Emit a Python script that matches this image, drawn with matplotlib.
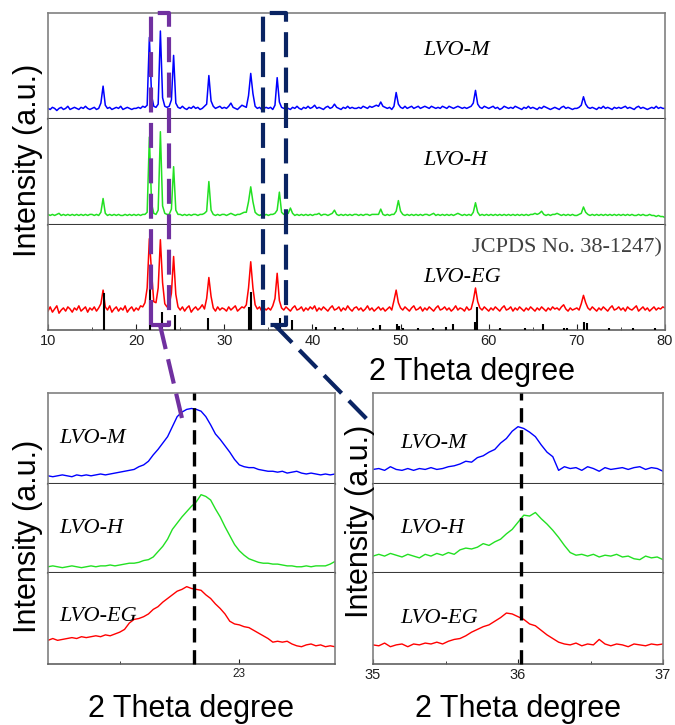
import matplotlib.pyplot as plt
import numpy as np
from matplotlib.lines import Line2D
from matplotlib.ticker import MultipleLocator

plt.rcParams['font.family'] = ['Liberation Sans', 'DejaVu Sans']

# ---- full XRD patterns (intensity in % of each strip height), 0.25 deg step ----
two_theta = np.linspace(10, 80, 281)

lvo_m = [10, 9, 11, 10, 8, 10, 11, 9, 10, 12, 9, 10, 11, 10, 9, 11, 10, 12, 10, 9,
         10, 11, 9, 10, 15, 31, 13, 10, 11, 9, 10, 11, 10, 12, 9, 10, 11, 10, 9, 10,
         10, 11, 10, 12, 11, 13, 77, 22, 12, 11, 14, 83, 20, 12, 11, 12, 18, 60, 15, 11,
         10, 12, 10, 9, 11, 10, 12, 10, 11, 9, 10, 12, 14, 41, 17, 12, 10, 11, 12, 10,
         11, 10, 12, 15, 11, 10, 9, 11, 13, 12, 11, 22, 43, 24, 12, 10, 11, 9, 10, 11,
         10, 11, 9, 13, 39, 16, 11, 10, 11, 10, 9, 11, 10, 12, 10, 9, 11, 10, 12, 10,
         11, 13, 10, 11, 10, 9, 11, 12, 10, 11, 14, 11, 10, 9, 11, 10, 12, 10, 11, 10,
         10, 11, 10, 12, 11, 10, 12, 11, 12, 13, 12, 16, 12, 11, 10, 11, 9, 12, 25, 14,
         11, 10, 12, 10, 11, 12, 10, 11, 12, 10, 11, 12, 11, 10, 12, 11, 10, 11, 10, 12,
         11, 10, 12, 11, 10, 11, 12, 11, 10, 11, 10, 11, 12, 15, 27, 14, 11, 10, 12, 11,
         10, 11, 12, 10, 11, 9, 10, 12, 11, 10, 11, 10, 12, 11, 10, 9, 11, 10, 12, 10,
         11, 10, 9, 11, 10, 12, 11, 10, 9, 10, 11, 10, 9, 11, 12, 10, 11, 10, 9, 10,
         10, 11, 13, 21, 14, 11, 10, 11, 10, 9, 11, 10, 12, 10, 11, 10, 9, 11, 10, 11,
         10, 11, 12, 10, 11, 10, 9, 11, 12, 10, 11, 10, 9, 10, 11, 10, 12, 10, 11, 10,
         10]

lvo_h = [10, 9, 10, 9, 10, 11, 9, 10, 9, 10, 9, 10, 9, 10, 9, 10, 9, 10, 9, 10,
         10, 9, 10, 9, 12, 25, 11, 9, 10, 9, 10, 9, 10, 9, 9, 10, 9, 10, 9, 10,
         9, 10, 9, 10, 10, 12, 83, 20, 11, 10, 14, 88, 18, 11, 10, 10, 15, 55, 14, 10,
         10, 9, 10, 9, 10, 9, 10, 10, 9, 10, 10, 11, 13, 41, 14, 10, 9, 10, 9, 10,
         10, 9, 10, 11, 10, 9, 10, 10, 11, 12, 12, 22, 36, 22, 12, 10, 9, 10, 9, 10,
         9, 10, 10, 11, 14, 31, 12, 10, 10, 11, 16, 11, 9, 10, 9, 10, 9, 10, 9, 10,
         9, 10, 10, 11, 9, 10, 10, 9, 10, 11, 14, 10, 9, 10, 9, 10, 9, 10, 9, 10,
         10, 9, 10, 9, 10, 10, 9, 10, 10, 10, 10, 15, 10, 9, 10, 9, 10, 10, 13, 23,
         13, 10, 9, 10, 9, 10, 9, 10, 9, 10, 9, 10, 10, 9, 10, 11, 9, 10, 9, 10,
         9, 10, 9, 10, 9, 10, 11, 10, 9, 10, 9, 10, 9, 12, 21, 12, 9, 10, 9, 10,
         9, 10, 9, 10, 9, 10, 9, 10, 9, 10, 9, 10, 9, 10, 9, 10, 9, 10, 9, 10,
         10, 11, 10, 11, 13, 10, 9, 10, 9, 10, 10, 11, 10, 9, 10, 9, 10, 9, 10, 9,
         9, 10, 11, 17, 12, 10, 9, 10, 9, 10, 9, 10, 9, 10, 9, 10, 9, 10, 9, 10,
         9, 10, 9, 10, 9, 10, 9, 9, 10, 9, 10, 9, 9, 10, 9, 9, 8, 9, 8, 8,
         7]

lvo_eg = [18, 22, 17, 20, 23, 16, 19, 21, 18, 22, 20, 17, 21, 19, 23, 18, 20, 22, 17, 21,
          19, 22, 18, 21, 25, 38, 22, 19, 23, 17, 20, 22, 18, 21, 19, 23, 17, 20, 22, 18,
          21, 19, 23, 22, 26, 40, 87, 55, 27, 26, 40, 86, 45, 25, 22, 24, 35, 70, 34, 22,
          19, 22, 18, 21, 23, 17, 20, 22, 19, 21, 24, 20, 30, 50, 32, 21, 18, 22, 19, 21,
          20, 18, 22, 19, 21, 23, 18, 20, 22, 21, 24, 40, 65, 40, 24, 20, 22, 18, 21, 19,
          21, 19, 23, 30, 54, 28, 21, 19, 22, 20, 18, 21, 23, 19, 20, 22, 18, 21, 19, 22,
          20, 23, 18, 21, 19, 22, 20, 18, 21, 23, 19, 20, 22, 18, 21, 19, 23, 20, 18, 21,
          22, 19, 21, 18, 20, 23, 19, 21, 18, 20, 22, 19, 21, 18, 20, 22, 19, 28, 38, 26,
          21, 19, 22, 20, 18, 21, 23, 19, 20, 22, 18, 21, 19, 22, 20, 18, 21, 23, 19, 20,
          22, 19, 21, 18, 20, 23, 19, 21, 20, 18, 22, 19, 20, 28, 40, 27, 21, 19, 22, 20,
          18, 21, 19, 22, 20, 18, 21, 23, 19, 20, 22, 18, 21, 19, 22, 20, 18, 21, 19, 22,
          20, 18, 21, 19, 22, 20, 18, 21, 19, 22, 20, 21, 19, 22, 24, 20, 18, 21, 19, 20,
          21, 19, 25, 33, 26, 21, 19, 22, 20, 18, 21, 19, 22, 20, 18, 21, 23, 19, 20, 22,
          19, 21, 18, 22, 20, 19, 21, 23, 18, 20, 22, 19, 21, 18, 20, 22, 19, 21, 20, 22,
          21]

# JCPDS No. 38-1247 reference sticks
jcpds_pos = [16.3, 21.6, 22.9, 24.4, 28.2, 32.8, 33.0, 36.3, 37.7, 40.4, 42.6,
             43.5, 46.9, 47.7, 49.6, 49.8, 50.3, 52.0, 53.7, 55.1, 55.9, 58.4,
             58.7, 61.3, 64.1, 66.2, 68.5, 68.9, 70.8, 71.1, 73.6, 76.4, 78.9]
jcpds_int = [35, 60, 17, 14, 11, 22, 36, 11, 10, 3, 3,
             2, 2, 5, 6, 4, 2, 2, 2, 3, 6, 8,
             22, 2, 2, 6, 2, 2, 8, 7, 2, 2, 2]

# ---- zoom on the (~22.8 deg) peak ----
zoom1_x = np.linspace(22.2, 23.4, 61)
zoom1_m = [9, 8, 9, 10, 9, 8, 10, 9, 10, 9, 10, 11, 10, 11, 12, 13, 14, 15, 16, 19,
           21, 25, 32, 38, 45, 52, 63, 74, 79, 82, 83, 82, 80, 74, 65, 55, 49, 42, 35, 27,
           21, 19, 18, 18, 16, 15, 14, 14, 13, 14, 12, 13, 14, 12, 11, 12, 11, 10, 11, 10,
           11]
zoom1_h = [7, 8, 7, 6, 7, 8, 7, 6, 7, 8, 7, 8, 8, 9, 8, 9, 10, 11, 11, 12,
           14, 15, 18, 24, 30, 38, 49, 56, 63, 69, 75, 80, 88, 86, 82, 72, 63, 52, 42, 32,
           25, 20, 16, 14, 12, 11, 11, 10, 10, 9, 8, 8, 7, 7, 8, 7, 8, 8, 8, 10,
           13]
zoom1_eg = [26, 28, 26, 27, 28, 29, 28, 30, 29, 30, 31, 30, 32, 31, 33, 35, 38, 45, 49, 50,
            52, 55, 60, 63, 68, 72, 76, 80, 82, 85, 83, 82, 81, 76, 72, 66, 61, 55, 47, 44,
            43, 41, 40, 37, 34, 31, 28, 24, 25, 24, 25, 22, 20, 19, 21, 22, 20, 21, 19, 20,
            19]

# ---- zoom on the (~36 deg) peak ----
zoom2_x = np.linspace(35, 37, 51)
zoom2_m = [16, 17, 15, 19, 16, 15, 17, 15, 17, 16, 18, 16, 17, 19, 20, 22, 25, 24, 29, 31,
           35, 38, 45, 50, 58, 63, 61, 57, 52, 43, 35, 30, 15, 19, 17, 18, 15, 19, 17, 14,
           18, 16, 17, 18, 16, 18, 19, 16, 18, 17, 14]
zoom2_h = [19, 21, 19, 22, 20, 18, 21, 19, 17, 21, 19, 22, 20, 23, 21, 26, 28, 27, 29, 33,
           31, 35, 38, 44, 49, 57, 65, 64, 68, 61, 55, 48, 40, 31, 23, 20, 21, 19, 21, 18,
           20, 19, 21, 18, 19, 16, 15, 19, 17, 18, 15]
zoom2_eg = [21, 20, 23, 19, 21, 22, 19, 22, 21, 23, 22, 24, 22, 25, 27, 28, 31, 35, 38, 41,
            43, 47, 51, 56, 55, 52, 49, 44, 42, 37, 32, 28, 24, 22, 21, 23, 20, 22, 21, 27,
            22, 20, 22, 21, 19, 22, 21, 20, 22, 21, 22]

labels = ['LVO-M', 'LVO-H', 'LVO-EG']
colors = ['#0000ff', '#22e022', '#ff0000']
zoom1_ref = 22.81
zoom2_ref = 36.02
box1 = (21.7, 23.7)
box2 = (34.4, 37.0)

W, H = 675, 725
fig = plt.figure(figsize=(W / 100, H / 100), dpi=100)


def stack(left, right, edges):
    axs = []
    for top, bot in zip(edges[:-1], edges[1:]):
        axs.append(fig.add_axes([left / W, 1 - bot / H, (right - left) / W, (bot - top) / H]))
    return axs


def style(axs, xlim):
    for i, ax in enumerate(axs):
        ax.set_xlim(xlim)
        ax.set_ylim(0, 100)
        ax.set_yticks([])
        for s in ax.spines.values():
            s.set_color('#808080')
            s.set_linewidth(1.2)
        if i > 0:
            ax.spines['top'].set_visible(False)
        if i < len(axs) - 1:
            ax.spines['bottom'].set_color('#3a3a3a')
            ax.spines['bottom'].set_linewidth(1.5)
            ax.tick_params(axis='x', which='both', bottom=False, labelbottom=False)
        else:
            ax.spines['bottom'].set_color('#606060')


top = stack(48, 665, [13, 119, 225, 330])
ins1 = stack(48, 335, [393, 484, 573, 664])
ins2 = stack(373, 663, [393, 484, 573, 664])

style(top, (10, 80))
style(ins1, (22.2, 23.4))
style(ins2, (35, 37))

# main pattern
for ax, y, c in zip(top, [lvo_m, lvo_h, lvo_eg], colors):
    ax.plot(two_theta, y, color=c, lw=1.1)
top[2].vlines(jcpds_pos, 0, jcpds_int, color='black', lw=1.5, zorder=3)
for ax, lab, yy in zip(top, labels, [65, 61, 50]):
    ax.text(52.6, yy, lab, fontsize=16, style='italic', family='Liberation Serif',
            va='center', ha='left')
top[2].text(58.1, 78, 'JCPDS No. 38-1247)', fontsize=16, family='Liberation Serif',
            color='#404040', va='center', ha='left', clip_on=False)
top[2].xaxis.set_major_locator(MultipleLocator(10))
top[2].xaxis.set_minor_locator(MultipleLocator(5))
top[2].tick_params(axis='x', which='both', direction='in', labelsize=10.5, pad=3, colors='#202020')
top[2].tick_params(axis='x', which='major', length=4)
top[2].tick_params(axis='x', which='minor', length=2.5)

# zoom insets
for axs, xs, data, xpos, ypos, ref in [
        (ins1, zoom1_x, [zoom1_m, zoom1_h, zoom1_eg], 0.04, [0.5, 0.5, 0.52], zoom1_ref),
        (ins2, zoom2_x, [zoom2_m, zoom2_h, zoom2_eg], 0.093, [0.45, 0.5, 0.5], zoom2_ref)]:
    for ax, y, c, lab, yp in zip(axs, data, colors, labels, ypos):
        ax.plot(xs, y, color=c, lw=1.0)
        ax.text(xpos, yp, lab, transform=ax.transAxes, fontsize=16, style='italic',
                family='Liberation Serif', va='center', ha='left')
    axs[2].xaxis.set_major_locator(MultipleLocator(1))
    axs[2].xaxis.set_minor_locator(MultipleLocator(0.5))
    axs[2].tick_params(axis='x', which='both', direction='in', pad=3, colors='#202020')
    axs[2].tick_params(axis='x', which='major', length=3.5)
    axs[2].tick_params(axis='x', which='minor', length=2.5)
    # dashed reference line through the three strips
    to_fig = fig.transFigure.inverted()
    p0 = to_fig.transform(axs[2].transData.transform((ref, 0)))
    p1 = to_fig.transform(axs[0].transData.transform((ref, 100)))
    fig.add_artist(Line2D([p0[0], p1[0]], [p0[1], p1[1]], color='black', lw=2.4,
                          dashes=(4.3, 2.3), zorder=5))
ins1[2].tick_params(axis='x', labelsize=8.5)
ins2[2].tick_params(axis='x', labelsize=10.5)

# dashed zoom boxes and connectors
to_fig = fig.transFigure.inverted()
for (xa, xb), c, target_ax, target in [(box1, '#7030a0', ins1[0], (0.47, 0.68)),
                                       (box2, '#0a2463', ins2[0], (-0.017, 0.70))]:
    bl = to_fig.transform(top[2].transData.transform((xa, 5)))
    tr = to_fig.transform(top[0].transData.transform((xb, 100)))
    fig.add_artist(Line2D([bl[0], bl[0], tr[0], tr[0], bl[0]],
                          [bl[1], tr[1], tr[1], bl[1], bl[1]],
                          color=c, lw=3, dashes=(6, 2.5), zorder=6))
    start = to_fig.transform(top[2].transData.transform(((xa + xb) / 2, 5)))
    end = to_fig.transform(target_ax.transAxes.transform(target))
    fig.add_artist(Line2D([start[0], end[0]], [start[1], end[1]], color=c, lw=3,
                          dashes=(6, 2.5), zorder=6))

# axis titles
fig.text(28 / W, 1 - 160 / H, 'Intensity (a.u.)', rotation=90, fontsize=22,
         ha='center', va='center')
fig.text(28 / W, 1 - 536 / H, 'Intensity (a.u.)', rotation=90, fontsize=22,
         ha='center', va='center')
fig.text(360 / W, 1 - 521 / H, 'Intensity (a.u.)', rotation=90, fontsize=22,
         ha='center', va='center')
fig.text(472 / W, 1 - 372 / H, '2 Theta degree', fontsize=22, ha='center', va='center')
fig.text(191 / W, 1 - 709 / H, '2 Theta degree', fontsize=22, ha='center', va='center')
fig.text(518 / W, 1 - 709 / H, '2 Theta degree', fontsize=22, ha='center', va='center')

fig.savefig('out.png', dpi=100)
